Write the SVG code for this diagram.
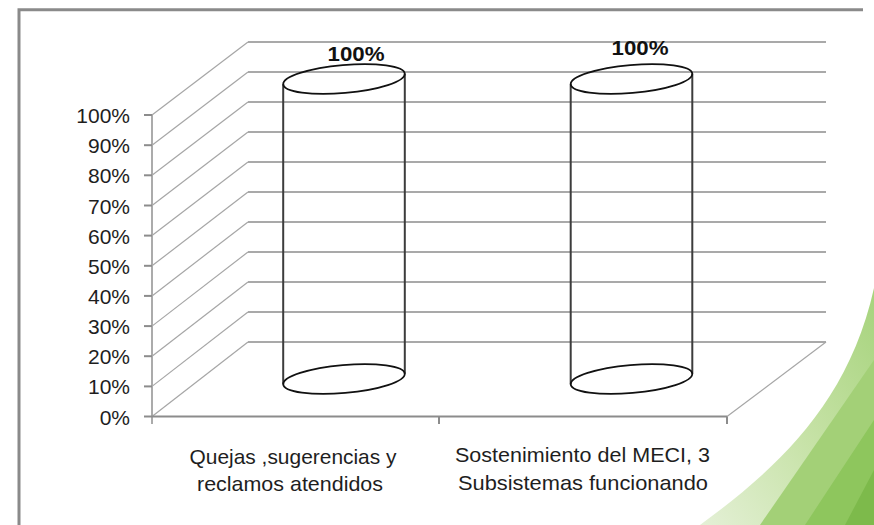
<svg xmlns="http://www.w3.org/2000/svg" width="874" height="525" viewBox="0 0 874 525">
<defs>
<style>
.grid{stroke:#8c8c8c;stroke-width:1.6;fill:none}
.diag{stroke:#a6a6a6;stroke-width:1.2;fill:none}
.tick{stroke:#8c8c8c;stroke-width:2;fill:none}
.cyl{stroke:#3c3c3c;stroke-width:2;fill:none}
.ell{stroke:#111;stroke-width:1.8;fill:none}
.ylab{font-family:"Liberation Sans",Arial,sans-serif;font-size:21px;fill:#1e1e1e;text-anchor:end}
.clab{font-family:"Liberation Sans",Arial,sans-serif;font-size:21px;fill:#1e1e1e;text-anchor:middle}
.dlab{font-family:"Liberation Sans",Arial,sans-serif;font-size:21px;font-weight:bold;fill:#111;text-anchor:middle}
</style>
<linearGradient id="gPale" x1="0" y1="1" x2="1" y2="0">
<stop offset="0" stop-color="#e4f0d6"/>
<stop offset="0.5" stop-color="#c6e2a6"/>
<stop offset="1" stop-color="#a6d37c"/>
</linearGradient>
</defs>
<rect width="874" height="525" fill="#ffffff"/>

<g id="decoration">
<path d="M700 525 C775 470 848 405 874 288 L874 525 Z" fill="url(#gPale)"/>
<path d="M760 525 L874 360 L874 525 Z" fill="#a3d077"/>
<path d="M805 525 L874 420 L874 525 Z" fill="#8ec65d"/>
<path d="M845 525 L874 470 L874 525 Z" fill="#7dba4b"/>
</g>

<g id="frame">
<path d="M19 525 L19 9.7 L863 9.7" fill="none" stroke="#8a8a8a" stroke-width="3"/>
</g>

<g id="connectors">
<g id="back-wall">
<line class="grid" x1="248" y1="342" x2="826" y2="342"/>
<line class="grid" x1="248" y1="312" x2="826" y2="312"/>
<line class="grid" x1="248" y1="282" x2="826" y2="282"/>
<line class="grid" x1="248" y1="252" x2="826" y2="252"/>
<line class="grid" x1="248" y1="222" x2="826" y2="222"/>
<line class="grid" x1="248" y1="192" x2="826" y2="192"/>
<line class="grid" x1="248" y1="162" x2="826" y2="162"/>
<line class="grid" x1="248" y1="132" x2="826" y2="132"/>
<line class="grid" x1="248" y1="102" x2="826" y2="102"/>
<line class="grid" x1="248" y1="72" x2="826" y2="72"/>
<line class="grid" x1="248" y1="42" x2="826" y2="42"/>
</g>
<g id="side-wall">
<line class="diag" x1="152" y1="416.5" x2="248" y2="342"/>
<line class="diag" x1="152" y1="386.4" x2="248" y2="312"/>
<line class="diag" x1="152" y1="356.2" x2="248" y2="282"/>
<line class="diag" x1="152" y1="326.1" x2="248" y2="252"/>
<line class="diag" x1="152" y1="295.9" x2="248" y2="222"/>
<line class="diag" x1="152" y1="265.8" x2="248" y2="192"/>
<line class="diag" x1="152" y1="235.6" x2="248" y2="162"/>
<line class="diag" x1="152" y1="205.5" x2="248" y2="132"/>
<line class="diag" x1="152" y1="175.3" x2="248" y2="102"/>
<line class="diag" x1="152" y1="145.2" x2="248" y2="72"/>
<line class="diag" x1="152" y1="115" x2="248" y2="42"/>
<line class="diag" x1="727" y1="416.5" x2="826" y2="342"/>
</g>
<g id="axes">
<line x1="152" y1="115" x2="152" y2="424" stroke="#ababab" stroke-width="2"/>
<line class="tick" x1="152" y1="416.5" x2="727" y2="416.5"/>
<line class="tick" x1="439" y1="416.5" x2="439" y2="424"/>
<line class="tick" x1="727" y1="416.5" x2="727" y2="424"/>
<line class="tick" x1="144" y1="416.5" x2="152" y2="416.5"/>
<line class="tick" x1="144" y1="386.4" x2="152" y2="386.4"/>
<line class="tick" x1="144" y1="356.2" x2="152" y2="356.2"/>
<line class="tick" x1="144" y1="326.1" x2="152" y2="326.1"/>
<line class="tick" x1="144" y1="295.9" x2="152" y2="295.9"/>
<line class="tick" x1="144" y1="265.8" x2="152" y2="265.8"/>
<line class="tick" x1="144" y1="235.6" x2="152" y2="235.6"/>
<line class="tick" x1="144" y1="205.5" x2="152" y2="205.5"/>
<line class="tick" x1="144" y1="175.3" x2="152" y2="175.3"/>
<line class="tick" x1="144" y1="145.2" x2="152" y2="145.2"/>
<line class="tick" x1="144" y1="115" x2="152" y2="115"/>
</g>
</g>

<g id="y-labels">
<text class="ylab" x="130" y="424.5">0%</text>
<text class="ylab" x="130" y="394.4">10%</text>
<text class="ylab" x="130" y="364.2">20%</text>
<text class="ylab" x="130" y="334.1">30%</text>
<text class="ylab" x="130" y="303.9">40%</text>
<text class="ylab" x="130" y="273.8">50%</text>
<text class="ylab" x="130" y="243.6">60%</text>
<text class="ylab" x="130" y="213.5">70%</text>
<text class="ylab" x="130" y="183.3">80%</text>
<text class="ylab" x="130" y="153.2">90%</text>
<text class="ylab" x="130" y="123">100%</text>
</g>

<g id="bar-quejas">
<line class="cyl" x1="283.2" y1="84.3" x2="283.2" y2="384.3"/>
<line class="cyl" x1="404.8" y1="73.7" x2="404.8" y2="373.7"/>
<ellipse class="ell" cx="344" cy="379" rx="61" ry="14" transform="rotate(-5 344 379)"/>
<ellipse class="ell" cx="344" cy="79" rx="61" ry="14" transform="rotate(-5 344 79)"/>
<text class="dlab" x="356" y="61" textLength="57" lengthAdjust="spacingAndGlyphs">100%</text>
</g>

<g id="bar-meci">
<line class="cyl" x1="570.7" y1="84.3" x2="570.7" y2="384.3"/>
<line class="cyl" x1="692.3" y1="73.7" x2="692.3" y2="373.7"/>
<ellipse class="ell" cx="631.5" cy="379" rx="61" ry="14" transform="rotate(-5 631.5 379)"/>
<ellipse class="ell" cx="631.5" cy="79" rx="61" ry="14" transform="rotate(-5 631.5 79)"/>
<text class="dlab" x="640" y="55" textLength="57" lengthAdjust="spacingAndGlyphs">100%</text>
</g>

<g id="category-labels">
<text class="clab" x="293" y="464" textLength="207" lengthAdjust="spacingAndGlyphs">Quejas ,sugerencias y</text>
<text class="clab" x="290" y="491" textLength="186" lengthAdjust="spacingAndGlyphs">reclamos atendidos</text>
<text class="clab" x="582.5" y="462" textLength="255" lengthAdjust="spacingAndGlyphs">Sostenimiento del MECI, 3</text>
<text class="clab" x="583" y="490" textLength="250" lengthAdjust="spacingAndGlyphs">Subsistemas funcionando</text>
</g>
</svg>
